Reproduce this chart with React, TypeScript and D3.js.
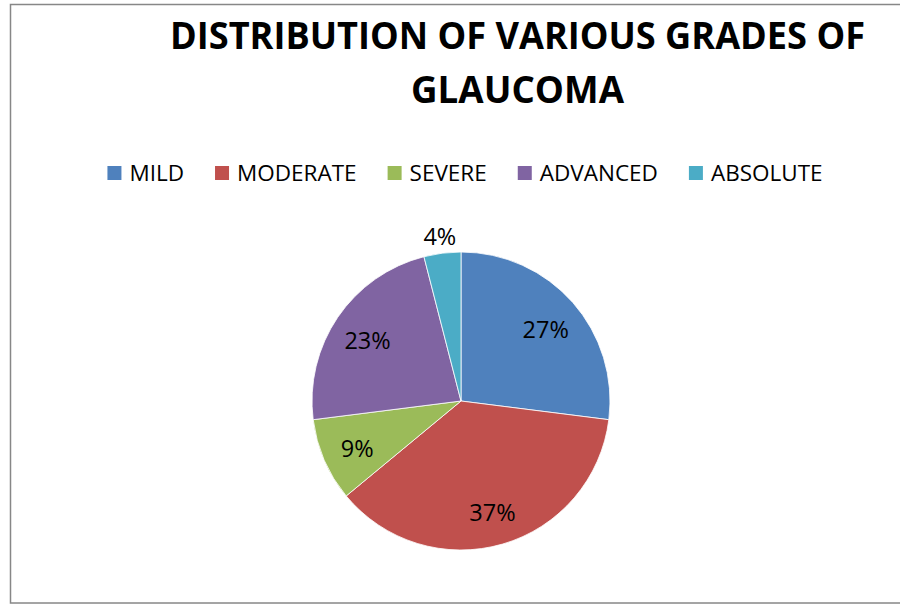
import { useEffect, useRef } from 'react';
import * as d3 from 'd3';

const categories = ['MILD', 'MODERATE', 'SEVERE', 'ADVANCED', 'ABSOLUTE'];
const values = [27, 37, 9, 23, 4];
const colors = ['#4F81BD', '#C0504D', '#9BBB59', '#8064A2', '#4BACC6'];
const titleLines = ['DISTRIBUTION OF VARIOUS GRADES OF', 'GLAUCOMA'];

const W = 900;
const H = 605;
const FONT = '"Open Sans", "DejaVu Sans", sans-serif';

export default function App() {
  const svgRef = useRef<SVGSVGElement>(null);

  useEffect(() => {
    const svg = d3.select(svgRef.current);
    svg.selectAll('*').remove();

    // chart frame (right edge falls outside the picture)
    svg
      .append('rect')
      .attr('x', 10.5)
      .attr('y', 4.5)
      .attr('width', W + 20)
      .attr('height', 598.5)
      .attr('fill', '#fff')
      .attr('stroke', '#878787')
      .attr('stroke-width', 1.5);

    // title
    const titleWidths = [695, 213];
    const title = svg
      .append('g')
      .attr('font-family', FONT)
      .attr('font-weight', 700)
      .attr('font-size', 38)
      .attr('fill', '#000')
      .attr('text-anchor', 'middle');
    titleLines.forEach((line, i) => {
      title
        .append('text')
        .attr('x', 517.5)
        .attr('y', 49 + i * 54)
        .attr('textLength', titleWidths[i])
        .attr('lengthAdjust', 'spacingAndGlyphs')
        .text(line);
    });

    // legend
    const legend = svg.append('g').attr('font-family', FONT).attr('font-size', 22.5);
    const items = legend
      .selectAll('g')
      .data(categories)
      .enter()
      .append('g');
    items
      .append('rect')
      .attr('width', 14)
      .attr('height', 14)
      .attr('y', 166)
      .attr('fill', (_d, i) => colors[i]);
    const labels = items
      .append('text')
      .attr('x', 22)
      .attr('y', 181)
      .attr('fill', '#000')
      .text(d => d);
    const widths: number[] = [];
    labels.each(function () {
      widths.push((this as SVGTextElement).getComputedTextLength());
    });
    const gap = 31;
    const total = d3.sum(widths, w => 22 + w) + gap * (widths.length - 1);
    let cursor = 465 - total / 2;
    items.attr('transform', (_d, i) => {
      const x = cursor;
      cursor += 22 + widths[i] + gap;
      return `translate(${x},0)`;
    });

    // pie
    const cx = 461;
    const cy = 401;
    const r = 149;
    const pie = d3
      .pie<number>()
      .sort(null)
      .value(d => d);
    const arcs = pie(values);
    const arc = d3.arc<d3.PieArcDatum<number>>().innerRadius(0).outerRadius(r);
    const inner = d3.arc<d3.PieArcDatum<number>>().innerRadius(226).outerRadius(0);
    const outer = d3.arc<d3.PieArcDatum<number>>().innerRadius(338).outerRadius(0);

    const g = svg.append('g').attr('transform', `translate(${cx},${cy})`);
    g.selectAll('path')
      .data(arcs)
      .enter()
      .append('path')
      .attr('d', arc)
      .attr('fill', (_d, i) => colors[i])
      .attr('stroke', '#fff')
      .attr('stroke-width', 0.8);

    g.selectAll('text')
      .data(arcs)
      .enter()
      .append('text')
      .attr('transform', d => {
        const [x, y] = (d.data < 5 ? outer : inner).centroid(d);
        return `translate(${x},${y + 3})`;
      })
      .attr('dy', '0.36em')
      .attr('text-anchor', 'middle')
      .attr('font-family', FONT)
      .attr('font-size', 23.5)
      .attr('fill', '#000')
      .text(d => `${d.data}%`);
  }, []);

  return (
    <svg
      ref={svgRef}
      width={W}
      height={H}
      style={{ position: 'absolute', left: 0, top: 0, background: '#fff' }}
    />
  );
}
